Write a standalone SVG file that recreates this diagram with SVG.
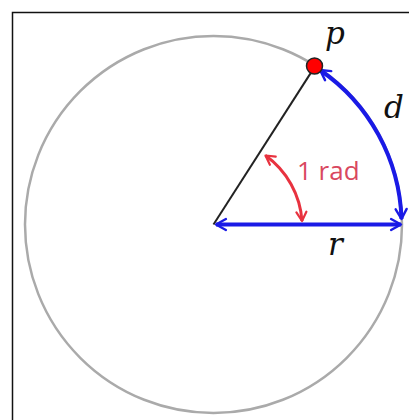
<svg xmlns="http://www.w3.org/2000/svg" width="409" height="420" viewBox="0 0 409 420">
<style>
.math{font-family:"DejaVu Serif","Liberation Serif",serif;font-style:italic;font-size:31px;fill:#111}
.lbl{font-family:"Open Sans","Liberation Sans",sans-serif;font-size:26px;fill:#d9485f}
</style>
<defs>
<marker id="ab" viewBox="0 0 10 10" refX="9" refY="5" markerWidth="11" markerHeight="11" orient="auto-start-reverse" markerUnits="userSpaceOnUse" overflow="visible">
<path d="M0,0 L9,5 L0,10" fill="none" stroke="#1a1ae6" stroke-width="2.2" stroke-linecap="round" stroke-linejoin="round"/>
</marker>
<marker id="ar" viewBox="0 0 10 10" refX="9" refY="5" markerWidth="10" markerHeight="10" orient="auto-start-reverse" markerUnits="userSpaceOnUse" overflow="visible">
<path d="M0,0 L9,5 L0,10" fill="none" stroke="#e8323f" stroke-width="2.2" stroke-linecap="round" stroke-linejoin="round"/>
</marker>
</defs>
<rect x="0" y="0" width="409" height="420" fill="#fff"/>
<rect x="12.5" y="12.5" width="410" height="420" fill="none" stroke="#111" stroke-width="1.5"/>
<g id="circle"><circle cx="213.5" cy="224.5" r="188.5" fill="none" stroke="#aaa" stroke-width="2.5"/></g>
<g id="connectors">
<line x1="213.5" y1="224.5" x2="315.3" y2="65.9" stroke="#222" stroke-width="2"/>
<path d="M320,70 A188.5,188.5 0 0,1 401.5,219" fill="none" stroke="#1a1ae6" stroke-width="4" marker-start="url(#ab)" marker-end="url(#ab)"/>
<line x1="216" y1="224.5" x2="401" y2="224.5" stroke="#1a1ae6" stroke-width="4" marker-start="url(#ab)" marker-end="url(#ab)"/>
<path d="M302,221 A88,88 0 0,0 265.5,155.5" fill="none" stroke="#e8323f" stroke-width="3" marker-start="url(#ar)" marker-end="url(#ar)"/>
</g>
<g id="p"><circle cx="314.5" cy="66" r="8" fill="#f00" stroke="#222" stroke-width="1.5"/><text class="math" x="325" y="44">p</text></g>
<text class="math" x="384" y="118">d</text>
<text class="math" x="328" y="255">r</text>
<text class="lbl" x="297" y="180">1 rad</text>
</svg>
